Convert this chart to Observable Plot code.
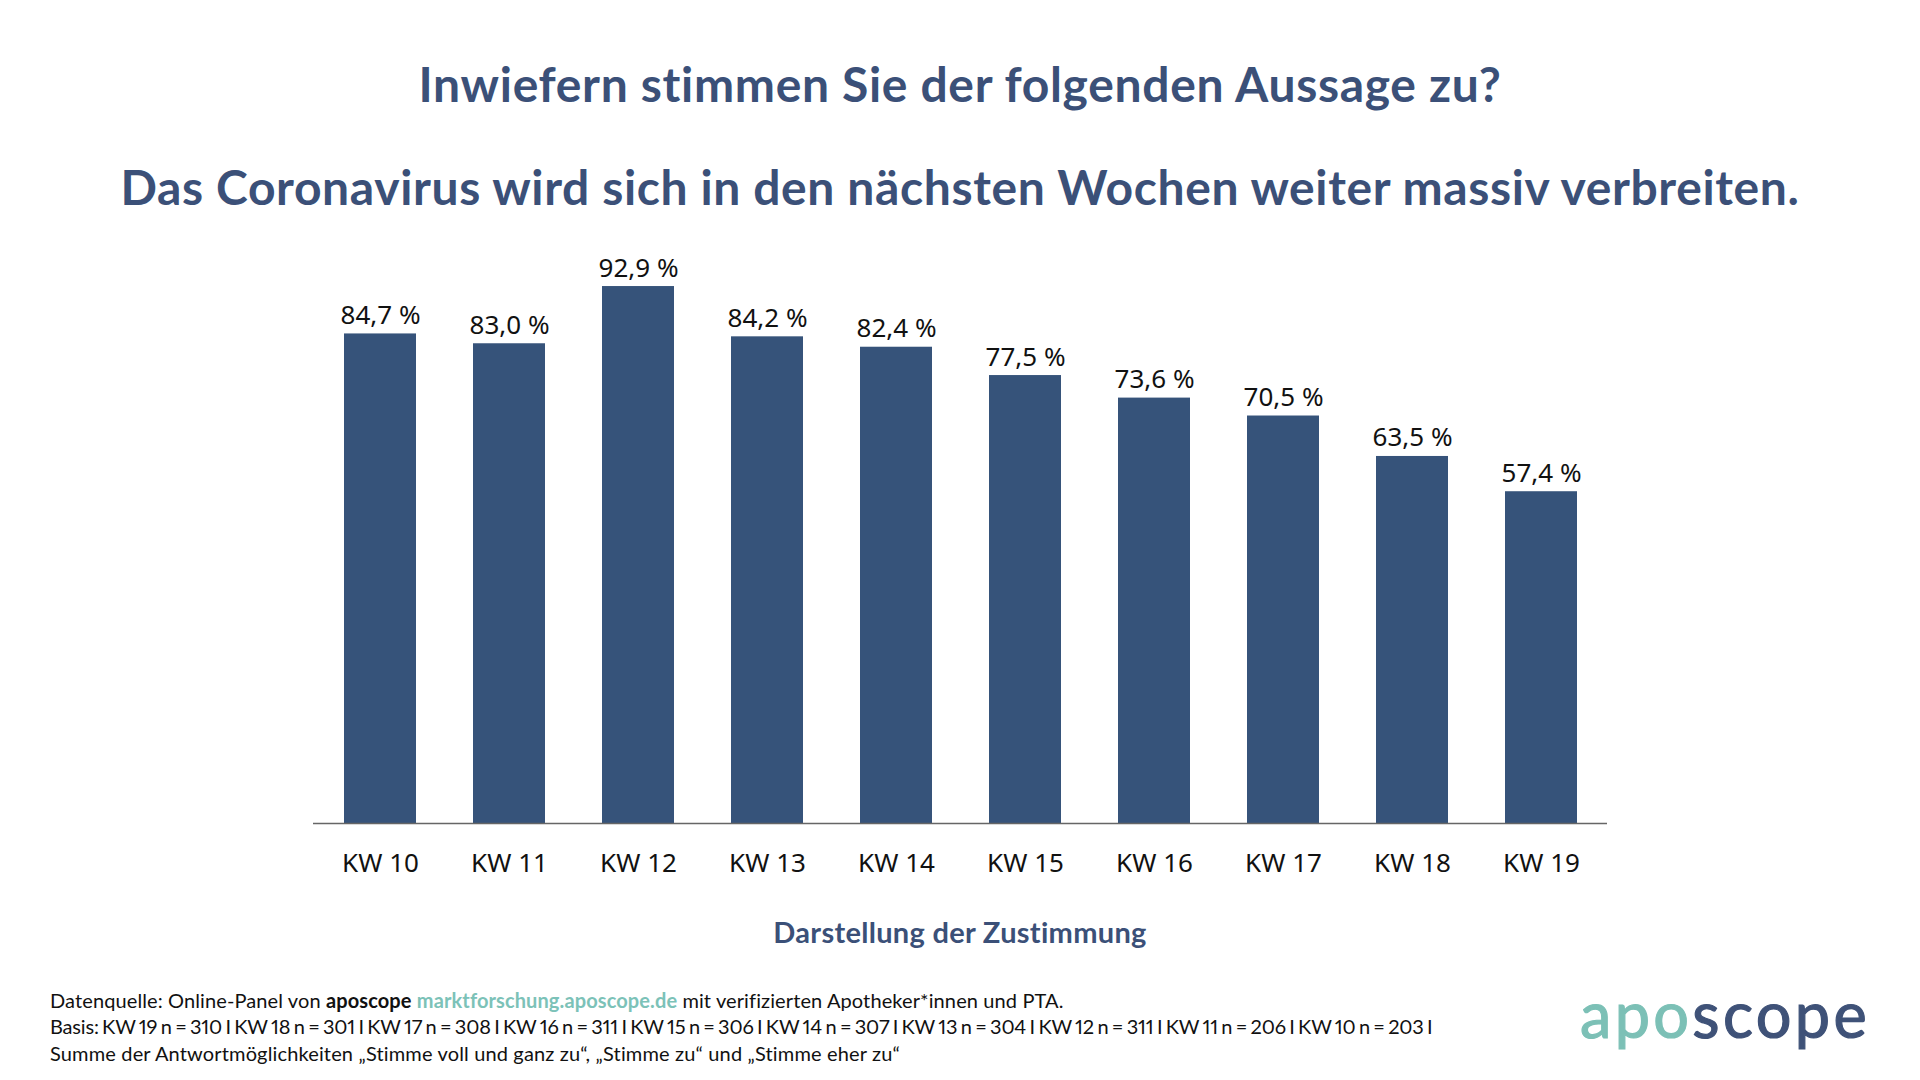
<!DOCTYPE html>
<html><head><meta charset="utf-8">
<script src="https://cdn.jsdelivr.net/npm/d3@7"></script>
<script src="https://cdn.jsdelivr.net/npm/@observablehq/plot@0.6"></script>
<style>
html,body{margin:0;padding:0;background:#fff;}
#page{position:relative;width:1920px;height:1080px;overflow:hidden;background:#fff;font-family:Lato,"Noto Sans",sans-serif;}
.t{position:absolute;left:0;width:1920px;text-align:center;color:#3b5078;font-weight:700;white-space:nowrap;line-height:1;}
#chart{position:absolute;left:0;top:225px;}
.foot{position:absolute;left:50px;font-size:20px;line-height:1;color:#111;white-space:nowrap;}
.foot b{font-weight:700;}
.teal{color:#7cc2b8;font-weight:700;}
#basis{font-variant-numeric:proportional-nums;word-spacing:-1.5px;}
#logo{position:absolute;left:1580px;top:982px;font-size:63px;line-height:1;white-space:nowrap;font-weight:400;-webkit-text-stroke:1.2px currentColor;}
</style></head>
<body><div id="page">
<div class="t" style="top:60px;font-size:48px;"><span data-w="1084">Inwiefern stimmen Sie der folgenden Aussage zu?</span></div>
<div class="t" style="top:163px;font-size:48px;"><span data-w="1679">Das Coronavirus wird sich in den nächsten Wochen weiter massiv verbreiten.</span></div>
<div id="chart"></div>
<div class="t" style="top:917px;font-size:29px;"><span data-w="374">Darstellung der Zustimmung</span></div>
<div class="foot" data-w="1013" style="top:990px;">Datenquelle: Online-Panel von <b>aposcope</b> <span class="teal">marktforschung.aposcope.de</span> mit verifizierten Apotheker*innen und PTA.</div>
<div class="foot" id="basis" data-w="1383" style="top:1016px;"></div>
<div class="foot" data-w="851" style="top:1043px;">Summe der Antwortmöglichkeiten „Stimme voll und ganz zu“, „Stimme zu“ und „Stimme eher zu“</div>
<div id="logo" data-w="290"><span style="color:#7cc0b6">apo</span><span style="color:#3f5278">scope</span></div>
</div>
<script>
const weeks = ["KW 10","KW 11","KW 12","KW 13","KW 14","KW 15","KW 16","KW 17","KW 18","KW 19"];
const shares = [84.7, 83.0, 92.9, 84.2, 82.4, 77.5, 73.6, 70.5, 63.5, 57.4];
const basisWeeks = ["KW 19","KW 18","KW 17","KW 16","KW 15","KW 14","KW 13","KW 12","KW 11","KW 10"];
const basisN = [310, 301, 308, 311, 306, 307, 304, 311, 206, 203];

document.getElementById("basis").textContent =
  "Basis: " + basisWeeks.map((w, i) => `${w} n = ${basisN[i]} I`).join(" ");

const data = weeks.map((w, i) => ({week: w, share: shares[i]}));
const fmt = v => d3.format(".1f")(v).replace(".", ",") + " %";

const chart = Plot.plot({
  width: 1920,
  height: 670,
  marginTop: 20,
  marginBottom: 72,
  marginLeft: 313,
  marginRight: 313,
  style: {fontFamily: "'Noto Sans', sans-serif", fontSize: "26px", color: "#111", background: "transparent"},
  x: {domain: weeks, paddingInner: 0.444, paddingOuter: 0.222, label: null, tickSize: 0, tickPadding: 30},
  y: {domain: [0, 100], axis: null},
  marks: [
    Plot.barY(data, {x: "week", y: "share", fill: "#36537a"}),
    Plot.ruleY([0], {stroke: "#666", strokeWidth: 1.5}),
    Plot.text(data, {x: "week", y: "share", text: d => fmt(d.share), dy: -10, lineAnchor: "bottom", fill: "#111", fontSize: 26})
  ]
});
document.getElementById("chart").appendChild(chart);

function fit() {
  document.querySelectorAll("[data-w]").forEach(el => {
    el.style.letterSpacing = "0px";
    const w = el.getBoundingClientRect().width;
    const n = el.textContent.length;
    const ls = (+el.dataset.w - w) / n;
    el.style.letterSpacing = ls.toFixed(2) + "px";
  });
}
fit();
if (document.fonts && document.fonts.ready) document.fonts.ready.then(fit);
</script>
</body></html>
